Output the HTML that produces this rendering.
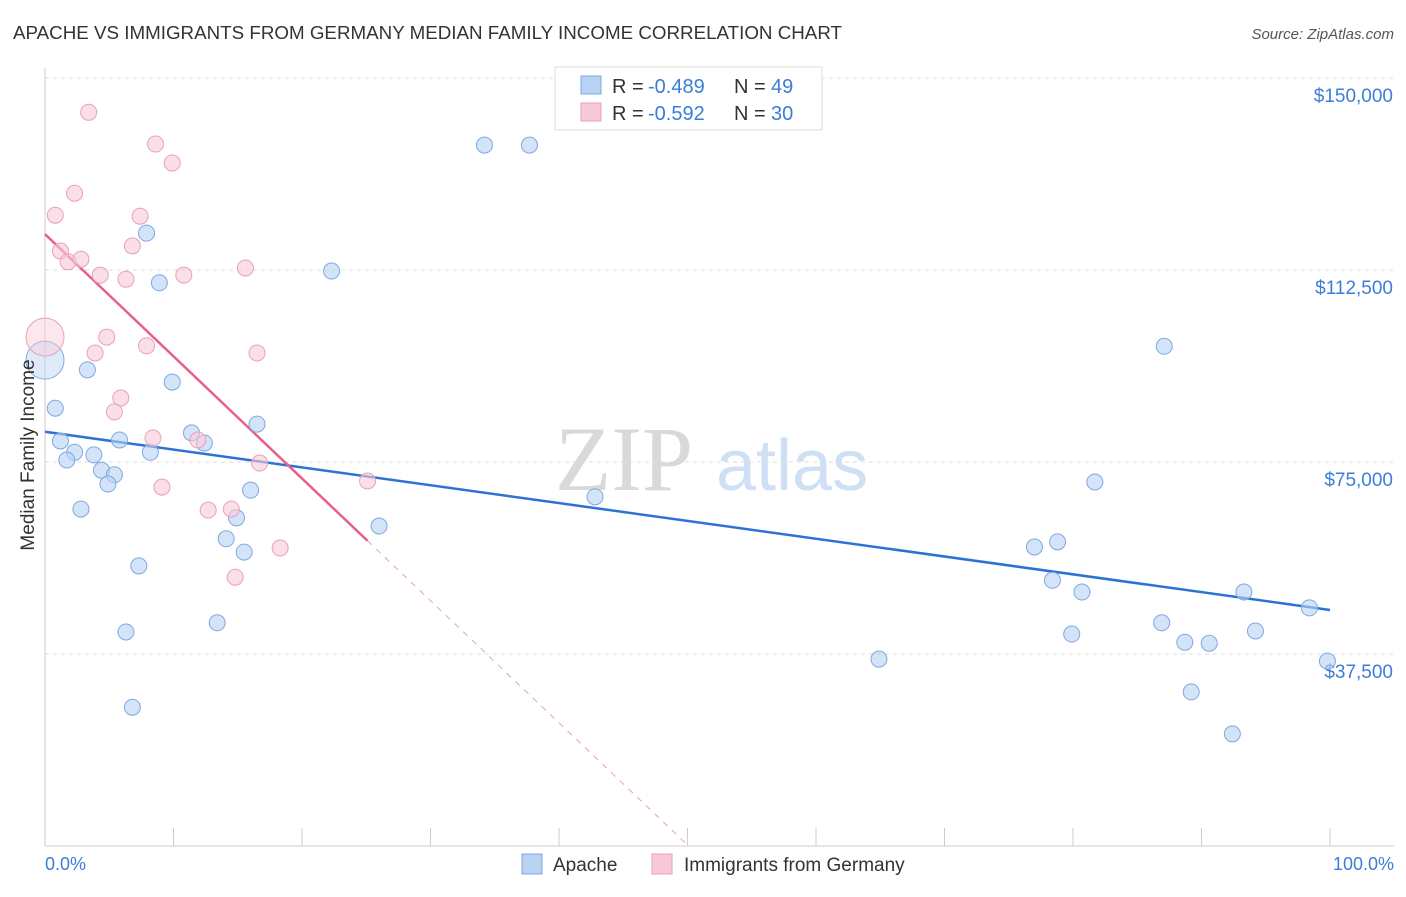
<!DOCTYPE html>
<html><head><meta charset="utf-8"><style>
body{margin:0;background:#fff;font-family:"Liberation Sans",sans-serif;}
</style></head><body>
<svg id="chart" width="1406" height="892" xmlns="http://www.w3.org/2000/svg" style="font-family:'Liberation Sans',sans-serif">
<text x="13" y="39" font-size="18" fill="#333" textLength="829" lengthAdjust="spacingAndGlyphs">APACHE VS IMMIGRANTS FROM GERMANY MEDIAN FAMILY INCOME CORRELATION CHART</text>
<text x="1394" y="39" font-size="15" fill="#555" text-anchor="end" font-style="italic">Source: ZipAtlas.com</text>
<g><text x="555" y="490" font-size="92" fill="#d9d9d9" font-family="Liberation Serif">ZIP</text><text x="716" y="490" font-size="72" fill="#cfe0f5">atlas</text></g>
<g id="grid"></g><g id="axes"></g><g id="trend"></g><g id="pts"></g>
<text transform="translate(34,455) rotate(-90)" font-size="19" fill="#333" text-anchor="middle">Median Family Income</text>
<text x="45" y="870" font-size="18" fill="#3b7dd8">0.0%</text>
<text x="1394" y="870" font-size="18" fill="#3b7dd8" text-anchor="end">100.0%</text>
<g>
<rect x="555" y="67" width="267" height="63" fill="#fff" stroke="#ddd"/>
<rect x="581" y="76" width="20" height="18" fill="#b8d2f3" stroke="#7fa8e0"/>
<rect x="581" y="103" width="20" height="18" fill="#f9c9d8" stroke="#eaa0b8"/>
<text x="612" y="93" font-size="20" fill="#333">R = </text><text x="648" y="93" font-size="20" fill="#3b7dd8">-0.489</text>
<text x="734" y="93" font-size="20" fill="#333">N = </text><text x="771" y="93" font-size="20" fill="#3b7dd8">49</text>
<text x="612" y="120" font-size="20" fill="#333">R = </text><text x="648" y="120" font-size="20" fill="#3b7dd8">-0.592</text>
<text x="734" y="120" font-size="20" fill="#333">N = </text><text x="771" y="120" font-size="20" fill="#3b7dd8">30</text>
</g>
<g>
<rect x="522" y="854" width="20" height="20" fill="#b8d2f3" stroke="#7fa8e0"/>
<text x="553" y="871" font-size="19" fill="#333">Apache</text>
<rect x="652" y="854" width="20" height="20" fill="#f9c9d8" stroke="#eaa0b8"/>
<text x="684" y="871" font-size="19" fill="#333">Immigrants from Germany</text>
</g>
</svg>
<script>
const yTicks=[37500,75000,112500,150000];
const yTickLabels=["$37,500","$75,000","$112,500","$150,000"];
const apacheX=[0,0.8,1.2,2.3,1.7,3.3,3.8,2.8,4.4,5.4,4.9,5.8,7.9,8.9,9.9,8.2,11.4,12.4,16.5,16.0,14.9,14.1,15.5,7.3,6.3,13.4,6.8,22.3,26.0,34.2,37.7,42.8,64.9,77.0,78.8,81.7,78.4,80.7,79.9,87.1,86.9,88.7,90.6,89.2,92.4,93.3,94.2,98.4,99.8];
const apacheY=[94900,85500,79100,76900,75400,93000,76400,65800,73400,72500,70700,79300,119700,110000,90600,76900,80700,78700,82400,69500,64100,60000,57400,54700,41800,43600,27100,112300,62500,136900,136900,68200,36500,58400,59400,71100,51900,49600,41400,97600,43600,39800,39600,30100,21900,49600,42000,46500,36100];
const germX=[0,0.8,3.4,2.3,8.6,9.9,7.4,1.2,1.8,2.8,4.3,6.8,6.3,10.8,15.6,4.8,3.9,7.9,16.5,5.9,5.4,8.4,11.9,9.1,16.7,12.7,14.5,25.1,18.3,14.8];
const germY=[99400,123200,143300,127500,137100,133400,123000,116200,114100,114600,111500,117200,110700,111500,112900,99400,96300,97700,96300,87500,84800,79700,79300,70100,74800,65600,65800,71300,58200,52500];
const apacheTrend=[80900,46100];
const germTrend=[119500,-2386];
const germSolidEnd=25.1;
const NS="http://www.w3.org/2000/svg";
const X=p=>45+p*12.85, Y=v=>846-v*0.00512;
function mk(t,a,parent){const e=document.createElementNS(NS,t);for(const k in a)e.setAttribute(k,a[k]);document.getElementById(parent).appendChild(e);return e;}
yTicks.forEach((v,i)=>{
 const l=mk('line',{x1:45,x2:1394,y1:Y(v),y2:Y(v),stroke:'#ddd','stroke-dasharray':'4,4'},'grid');
 
 
 const t=mk('text',{x:1393,y:Y(v)+24,'font-size':19,fill:'#3b7dd8','text-anchor':'end'},'grid');t.textContent=yTickLabels[i];
 
 
});
const ax=mk('line',{x1:45,x2:1394,y1:846,y2:846,stroke:'#ccc'},'axes');


const ay=mk('line',{x1:45,x2:45,y1:68,y2:846,stroke:'#ccc'},'axes');


for(let i=0;i<=10;i++){const t=mk('line',{x1:X(i*10),x2:X(i*10),y1:828,y2:846,stroke:'#ccc'},'axes');
 
 }
function dots(xs,ys,fill,stroke,name){xs.forEach((p,i)=>{const big=(i===0);
 const c=mk('circle',{cx:X(p),cy:Y(ys[i]),r:big?19:8,fill:fill,'fill-opacity':big?0.45:0.6,stroke:stroke,'stroke-width':1},'pts');
 
 });}
dots(apacheX,apacheY,'#b8d2f3','#7fa8e0','apache-point');
dots(germX,germY,'#f9c9d8','#eaa0b8','germany-point');
const bl=mk('line',{x1:X(0),y1:Y(apacheTrend[0]),x2:X(100),y2:Y(apacheTrend[1]),stroke:'#2b72d6','stroke-width':2.5},'trend');


const gz=-germTrend[0]/germTrend[1];
const pl=mk('line',{x1:X(0),y1:Y(germTrend[0]),x2:X(germSolidEnd),y2:Y(germTrend[0]+germTrend[1]*germSolidEnd),stroke:'#e8608a','stroke-width':2.5},'trend');


const pd=mk('line',{x1:X(germSolidEnd),y1:Y(germTrend[0]+germTrend[1]*germSolidEnd),x2:X(gz),y2:Y(0),stroke:'#e8a0b8','stroke-width':1,'stroke-dasharray':'6,6'},'trend');


</script>
</body></html>
